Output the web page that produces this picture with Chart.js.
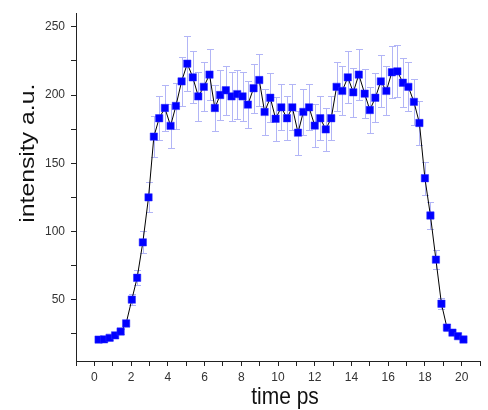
<!DOCTYPE html>
<html>
<head>
<meta charset="utf-8">
<script src="https://cdn.jsdelivr.net/npm/chart.js@4/dist/chart.umd.min.js"></script>
<style>
html, body { margin: 0; padding: 0; background: #fff; }
#wrap { width: 488px; height: 410px; }
</style>
</head>
<body>
<div id="wrap"><canvas id="chart" width="488" height="410"></canvas></div>
<script>
// time (ps), intensity (a.u.) and error bar half height
var times = [
  0.23, 0.53, 0.83, 1.13, 1.43, 1.73, 2.04, 2.33, 2.64, 2.95,
  3.24, 3.53, 3.84, 4.15, 4.44, 4.75, 5.06, 5.36, 5.66, 5.96,
  6.27, 6.56, 6.85, 7.16, 7.47, 7.78, 8.07, 8.36, 8.67, 8.98,
  9.27, 9.58, 9.87, 10.18, 10.49, 10.78, 11.09, 11.38, 11.69, 12.0,
  12.3, 12.6, 12.9, 13.19, 13.5, 13.8, 14.1, 14.4, 14.72, 15.0,
  15.3, 15.6, 15.9, 16.2, 16.5, 16.8, 17.1, 17.4, 17.7, 18.0,
  18.3, 18.6, 18.9, 19.2, 19.5, 19.8, 20.1
];
var intensity = [
  20.7, 20.9, 22, 23.8, 26.6, 32.6, 50, 66, 92, 125,
  169.5, 183, 190.5, 177.4, 192, 210, 223, 213, 199, 206,
  215, 190.5, 200, 203.5, 199, 200.7, 199, 193, 205, 211,
  187.6, 198, 182.6, 191, 183, 191, 172.4, 187.6, 191, 177.6,
  183, 174.8, 183, 206, 203, 213, 202, 215, 201, 189,
  198, 210, 203, 216.7, 217.4, 209, 206, 195, 179.5, 139,
  111.7, 79.3, 47, 29.5, 25.8, 23.2, 20.8
];
var errors = [
  1.5, 1.5, 1.6, 1.8, 2, 2.5, 4, 5.5, 8, 11,
  15, 16, 17, 16, 17, 18, 20, 19, 18, 18,
  19, 17, 18, 18, 18, 18, 18, 17, 18, 19,
  17, 18, 16, 17, 16, 17, 16, 17, 17, 16,
  16, 16, 16, 18, 18, 19, 18, 19, 18, 17,
  18, 19, 18, 19, 19, 18, 18, 17, 16, 12,
  10, 7, 4, 2.5, 2, 2, 1.5
];
var xLabels = [0, 2, 4, 6, 8, 10, 12, 14, 16, 18, 20];
var yLabels = [50, 100, 150, 200, 250];
var xTitle = 'time ps';
var yTitle = 'intensity a.u.';

var FONT = "'Liberation Sans', Arial, sans-serif";

var points = times.map(function(t, i){ return {x: t, y: intensity[i]}; });

// vertical error bars with caps, drawn under the line and squares
var errorBars = {
  id: 'errorBars',
  beforeDatasetsDraw: function(chart){
    var ctx = chart.ctx;
    var xs = chart.scales.x, ys = chart.scales.y;
    ctx.save();
    ctx.strokeStyle = '#b2b5f6';
    ctx.lineWidth = 1;
    times.forEach(function(t, i){
      var x = Math.round(xs.getPixelForValue(t)) + 0.5;
      var top = Math.round(ys.getPixelForValue(intensity[i] + errors[i])) + 0.5;
      var bot = Math.round(ys.getPixelForValue(intensity[i] - errors[i])) + 0.5;
      ctx.beginPath();
      ctx.moveTo(x, top); ctx.lineTo(x, bot);
      ctx.moveTo(x - 3.5, top); ctx.lineTo(x + 3.5, top);
      ctx.moveTo(x - 3.5, bot); ctx.lineTo(x + 3.5, bot);
      ctx.stroke();
    });
    ctx.restore();
  }
};

// axis titles, slightly stretched vertically like the original scan
var axisTitles = {
  id: 'axisTitles',
  afterDraw: function(chart){
    var ctx = chart.ctx;
    var area = chart.chartArea;
    ctx.save();
    ctx.fillStyle = '#111';
    ctx.font = '21px ' + FONT;
    ctx.textAlign = 'center';
    ctx.textBaseline = 'alphabetic';

    ctx.save();
    ctx.translate(area.left + 209, 404);
    ctx.scale(1, 1.1);
    ctx.fillText(xTitle, 0, 0);
    ctx.restore();

    ctx.save();
    ctx.translate(34, area.top + 140);
    ctx.rotate(-Math.PI / 2);
    ctx.scale(1.18, 1);
    ctx.fillText(yTitle, 0, 0);
    ctx.restore();

    ctx.restore();
  }
};

function everyStep(from, to, step){
  var out = [];
  for (var v = from; v <= to + 1e-9; v += step) out.push({value: v});
  return out;
}

new Chart(document.getElementById('chart'), {
  type: 'line',
  data: {
    datasets: [{
      data: points,
      borderColor: '#000',
      borderWidth: 1,
      tension: 0,
      pointStyle: 'rect',
      pointRadius: 5.2,
      pointBackgroundColor: '#0000ff',
      pointBorderColor: '#2a2aff',
      pointBorderWidth: 0.5
    }]
  },
  options: {
    responsive: false,
    animation: false,
    devicePixelRatio: 1,
    layout: {padding: {top: 4, right: 8, left: 0, bottom: 0}},
    plugins: {legend: {display: false}, tooltip: {enabled: false}},
    scales: {
      x: {
        type: 'linear',
        min: -1,
        max: 21,
        afterBuildTicks: function(s){ s.ticks = everyStep(-1, 21, 1); },
        afterFit: function(s){ s.height = 49; },
        grid: {drawOnChartArea: false, tickLength: 5, color: '#222'},
        border: {display: true, color: '#222', width: 1},
        ticks: {
          autoSkip: false,
          maxRotation: 0,
          padding: 4,
          color: '#333',
          font: {size: 12, family: FONT},
          callback: function(v){ return xLabels.indexOf(v) >= 0 ? String(v) : ''; }
        }
      },
      y: {
        min: 5,
        max: 260,
        afterBuildTicks: function(s){ s.ticks = everyStep(25, 250, 25); },
        afterFit: function(s){ s.width = 76; },
        grid: {drawOnChartArea: false, tickLength: 5, color: '#222'},
        border: {display: true, color: '#222', width: 1},
        ticks: {
          autoSkip: false,
          padding: 6,
          color: '#333',
          font: {size: 12, family: FONT},
          callback: function(v){ return yLabels.indexOf(v) >= 0 ? String(v) : ''; }
        }
      }
    }
  },
  plugins: [errorBars, axisTitles]
});
</script>
</body>
</html>
